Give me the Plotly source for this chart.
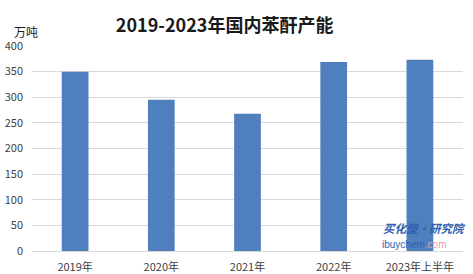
import plotly.graph_objects as go

# 国内苯酐产能（万吨）
categories = ["2019年", "2020年", "2021年", "2022年", "2023年上半年"]
capacity = [350, 295, 268, 369, 373]
y_ticks = [0, 50, 100, 150, 200, 250, 300, 350, 400]

CJK = "Noto Sans CJK SC, Microsoft YaHei, sans-serif"

fig = go.Figure(
    go.Bar(
        x=categories,
        y=capacity,
        marker=dict(color="#4f7fbd", line=dict(width=0)),
        hoverinfo="x+y",
    )
)

fig.update_layout(
    width=473,
    height=274,
    margin=dict(l=32, r=10, t=46, b=23),
    paper_bgcolor="white",
    plot_bgcolor="white",
    bargap=0.69,
    showlegend=False,
    font=dict(family=CJK, size=11, color="#404040"),
    title=dict(
        text="<b>2019-2023年国内苯酐产能</b>",
        x=0.475,
        xanchor="center",
        y=0.905,
        yanchor="middle",
        font=dict(family=CJK, size=18, color="#1a1a1a"),
    ),
    xaxis=dict(
        showgrid=False,
        showline=True,
        linecolor="#d9d9d9",
        linewidth=1,
        ticks="",
        ticklabelstandoff=6,
        automargin=False,
        tickfont=dict(family=CJK, size=11, color="#404040"),
        fixedrange=True,
    ),
    yaxis=dict(
        range=[0, 400],
        tickvals=y_ticks,
        showgrid=True,
        gridcolor="#d9d9d9",
        gridwidth=1,
        zeroline=False,
        ticks="",
        ticklabelstandoff=8,
        automargin=False,
        tickfont=dict(family=CJK, size=11, color="#404040"),
        fixedrange=True,
    ),
    annotations=[
        dict(
            text="万吨",
            xref="paper", yref="paper",
            x=-0.015, y=1.071,
            xanchor="center", yanchor="middle",
            showarrow=False,
            font=dict(family=CJK, size=12, color="#1a1a1a"),
        ),
        dict(
            text="<b><i>买化塑·研究院</i></b>",
            xref="paper", yref="paper",
            x=1.012, y=0.11,
            xanchor="right", yanchor="middle",
            showarrow=False,
            font=dict(family=CJK, size=11.5, color="#2f5fb3"),
        ),
        dict(
            text="<span style='color:#2f5fb3'>ibuy</span><span style='color:#2f5fb3'>chem</span><span style='color:#e8a0a8'>.com</span>",
            xref="paper", yref="paper",
            x=0.965, y=0.034,
            xanchor="right", yanchor="middle",
            showarrow=False,
            font=dict(family="Liberation Sans, Arial, sans-serif", size=10),
        ),
    ],
)

fig.write_html("out.html")
